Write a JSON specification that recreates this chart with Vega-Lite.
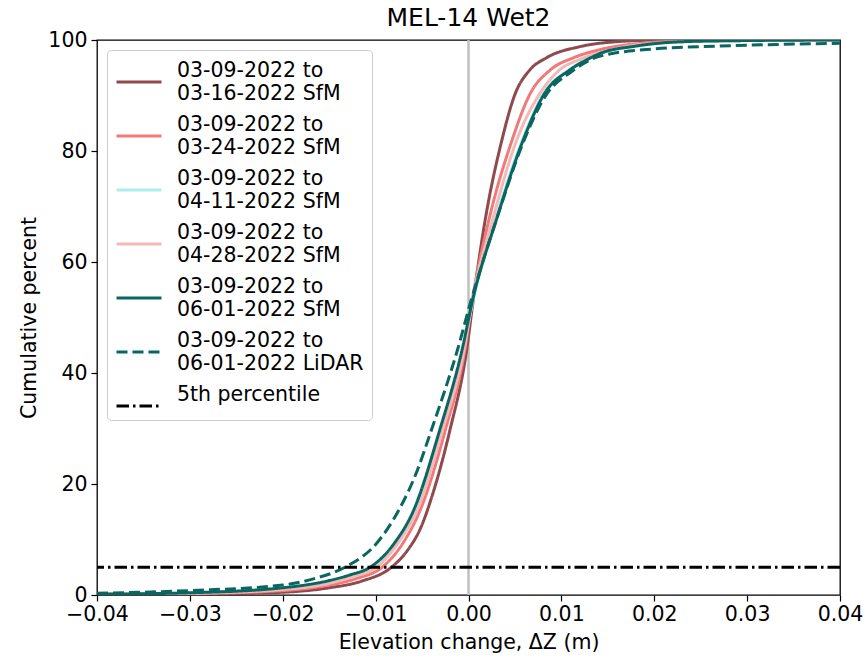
{
  "$schema": "https://vega.github.io/schema/vega-lite/v6.json",
  "width": 743,
  "height": 555,
  "autosize": "none",
  "padding": {"left": 97, "top": 40, "right": 25, "bottom": 65},
  "config": {
    "font": "DejaVu Sans",
    "view": {"stroke": "black", "strokeWidth": 1.3},
    "axis": {
      "domain": false, "grid": false, "tickColor": "black", "tickWidth": 1.2, "tickSize": 6,
      "labelFontSize": 20.5, "labelColor": "black", "labelFont": "DejaVu Sans",
      "labelOverlap": false, "labelFlush": false, "labelBound": false,
      "titleFontSize": 20.5, "titleFontWeight": "normal", "titleColor": "black", "titleFont": "DejaVu Sans"
    }
  },
  "title": {"text": "MEL-14 Wet2", "fontSize": 25, "fontWeight": "normal", "font": "DejaVu Sans", "color": "black", "offset": -1},
  "datasets": {
    "curves": [
      {"series": "03-09-2022 to|03-16-2022 SfM", "dz": -0.04, "pct": 0.05},
      {"series": "03-09-2022 to|03-16-2022 SfM", "dz": -0.03, "pct": 0.15},
      {"series": "03-09-2022 to|03-16-2022 SfM", "dz": -0.02, "pct": 0.5},
      {"series": "03-09-2022 to|03-16-2022 SfM", "dz": -0.015, "pct": 1.3},
      {"series": "03-09-2022 to|03-16-2022 SfM", "dz": -0.0115, "pct": 2.5},
      {"series": "03-09-2022 to|03-16-2022 SfM", "dz": -0.0083, "pct": 5},
      {"series": "03-09-2022 to|03-16-2022 SfM", "dz": -0.0065, "pct": 8.2},
      {"series": "03-09-2022 to|03-16-2022 SfM", "dz": -0.0052, "pct": 11.9},
      {"series": "03-09-2022 to|03-16-2022 SfM", "dz": -0.0038, "pct": 18.5},
      {"series": "03-09-2022 to|03-16-2022 SfM", "dz": -0.002, "pct": 29.7},
      {"series": "03-09-2022 to|03-16-2022 SfM", "dz": -0.0002, "pct": 44.1},
      {"series": "03-09-2022 to|03-16-2022 SfM", "dz": 0.0005, "pct": 53},
      {"series": "03-09-2022 to|03-16-2022 SfM", "dz": 0.0018, "pct": 67.6},
      {"series": "03-09-2022 to|03-16-2022 SfM", "dz": 0.0036, "pct": 82},
      {"series": "03-09-2022 to|03-16-2022 SfM", "dz": 0.005, "pct": 90.2},
      {"series": "03-09-2022 to|03-16-2022 SfM", "dz": 0.0066, "pct": 94.6},
      {"series": "03-09-2022 to|03-16-2022 SfM", "dz": 0.0084, "pct": 96.8},
      {"series": "03-09-2022 to|03-16-2022 SfM", "dz": 0.012, "pct": 98.8},
      {"series": "03-09-2022 to|03-16-2022 SfM", "dz": 0.016, "pct": 99.7},
      {"series": "03-09-2022 to|03-16-2022 SfM", "dz": 0.02, "pct": 99.95},
      {"series": "03-09-2022 to|03-16-2022 SfM", "dz": 0.04, "pct": 100},

      {"series": "03-09-2022 to|03-24-2022 SfM", "dz": -0.04, "pct": 0.1},
      {"series": "03-09-2022 to|03-24-2022 SfM", "dz": -0.03, "pct": 0.25},
      {"series": "03-09-2022 to|03-24-2022 SfM", "dz": -0.02, "pct": 0.8},
      {"series": "03-09-2022 to|03-24-2022 SfM", "dz": -0.015, "pct": 1.8},
      {"series": "03-09-2022 to|03-24-2022 SfM", "dz": -0.012, "pct": 3.0},
      {"series": "03-09-2022 to|03-24-2022 SfM", "dz": -0.0093, "pct": 5},
      {"series": "03-09-2022 to|03-24-2022 SfM", "dz": -0.007, "pct": 9.5},
      {"series": "03-09-2022 to|03-24-2022 SfM", "dz": -0.0052, "pct": 15.3},
      {"series": "03-09-2022 to|03-24-2022 SfM", "dz": -0.0025, "pct": 29.7},
      {"series": "03-09-2022 to|03-24-2022 SfM", "dz": -0.0004, "pct": 44.1},
      {"series": "03-09-2022 to|03-24-2022 SfM", "dz": 0.0004, "pct": 53},
      {"series": "03-09-2022 to|03-24-2022 SfM", "dz": 0.0022, "pct": 67.6},
      {"series": "03-09-2022 to|03-24-2022 SfM", "dz": 0.0047, "pct": 82},
      {"series": "03-09-2022 to|03-24-2022 SfM", "dz": 0.0066, "pct": 90.2},
      {"series": "03-09-2022 to|03-24-2022 SfM", "dz": 0.0088, "pct": 94.6},
      {"series": "03-09-2022 to|03-24-2022 SfM", "dz": 0.0113, "pct": 96.8},
      {"series": "03-09-2022 to|03-24-2022 SfM", "dz": 0.014, "pct": 98.2},
      {"series": "03-09-2022 to|03-24-2022 SfM", "dz": 0.018, "pct": 99.3},
      {"series": "03-09-2022 to|03-24-2022 SfM", "dz": 0.025, "pct": 99.9},
      {"series": "03-09-2022 to|03-24-2022 SfM", "dz": 0.04, "pct": 100},

      {"series": "03-09-2022 to|04-11-2022 SfM", "dz": -0.04, "pct": 0.15},
      {"series": "03-09-2022 to|04-11-2022 SfM", "dz": -0.03, "pct": 0.4},
      {"series": "03-09-2022 to|04-11-2022 SfM", "dz": -0.02, "pct": 1.25},
      {"series": "03-09-2022 to|04-11-2022 SfM", "dz": -0.015, "pct": 2.5},
      {"series": "03-09-2022 to|04-11-2022 SfM", "dz": -0.0105, "pct": 5},
      {"series": "03-09-2022 to|04-11-2022 SfM", "dz": -0.0058, "pct": 15.3},
      {"series": "03-09-2022 to|04-11-2022 SfM", "dz": -0.003, "pct": 29.7},
      {"series": "03-09-2022 to|04-11-2022 SfM", "dz": -0.0006, "pct": 44.1},
      {"series": "03-09-2022 to|04-11-2022 SfM", "dz": 0.0005, "pct": 53.2},
      {"series": "03-09-2022 to|04-11-2022 SfM", "dz": 0.0029, "pct": 67.6},
      {"series": "03-09-2022 to|04-11-2022 SfM", "dz": 0.0058, "pct": 82},
      {"series": "03-09-2022 to|04-11-2022 SfM", "dz": 0.0081, "pct": 90.4},
      {"series": "03-09-2022 to|04-11-2022 SfM", "dz": 0.0108, "pct": 94.6},
      {"series": "03-09-2022 to|04-11-2022 SfM", "dz": 0.0126, "pct": 96.4},
      {"series": "03-09-2022 to|04-11-2022 SfM", "dz": 0.0142, "pct": 97.6},
      {"series": "03-09-2022 to|04-11-2022 SfM", "dz": 0.018, "pct": 98.9},
      {"series": "03-09-2022 to|04-11-2022 SfM", "dz": 0.023, "pct": 99.7},
      {"series": "03-09-2022 to|04-11-2022 SfM", "dz": 0.03, "pct": 99.9},
      {"series": "03-09-2022 to|04-11-2022 SfM", "dz": 0.04, "pct": 100},

      {"series": "03-09-2022 to|04-28-2022 SfM", "dz": -0.04, "pct": 0.1},
      {"series": "03-09-2022 to|04-28-2022 SfM", "dz": -0.03, "pct": 0.3},
      {"series": "03-09-2022 to|04-28-2022 SfM", "dz": -0.02, "pct": 1.0},
      {"series": "03-09-2022 to|04-28-2022 SfM", "dz": -0.015, "pct": 2.1},
      {"series": "03-09-2022 to|04-28-2022 SfM", "dz": -0.0125, "pct": 3.3},
      {"series": "03-09-2022 to|04-28-2022 SfM", "dz": -0.0099, "pct": 5},
      {"series": "03-09-2022 to|04-28-2022 SfM", "dz": -0.0075, "pct": 9.6},
      {"series": "03-09-2022 to|04-28-2022 SfM", "dz": -0.0054, "pct": 15.8},
      {"series": "03-09-2022 to|04-28-2022 SfM", "dz": -0.0028, "pct": 29.7},
      {"series": "03-09-2022 to|04-28-2022 SfM", "dz": -0.0005, "pct": 44.1},
      {"series": "03-09-2022 to|04-28-2022 SfM", "dz": 0.0004, "pct": 53},
      {"series": "03-09-2022 to|04-28-2022 SfM", "dz": 0.0026, "pct": 67.6},
      {"series": "03-09-2022 to|04-28-2022 SfM", "dz": 0.0052, "pct": 82},
      {"series": "03-09-2022 to|04-28-2022 SfM", "dz": 0.0077, "pct": 90.4},
      {"series": "03-09-2022 to|04-28-2022 SfM", "dz": 0.0098, "pct": 94.6},
      {"series": "03-09-2022 to|04-28-2022 SfM", "dz": 0.012, "pct": 96.5},
      {"series": "03-09-2022 to|04-28-2022 SfM", "dz": 0.015, "pct": 98.1},
      {"series": "03-09-2022 to|04-28-2022 SfM", "dz": 0.02, "pct": 99.4},
      {"series": "03-09-2022 to|04-28-2022 SfM", "dz": 0.03, "pct": 99.9},
      {"series": "03-09-2022 to|04-28-2022 SfM", "dz": 0.04, "pct": 100},

      {"series": "03-09-2022 to|06-01-2022 SfM", "dz": -0.04, "pct": 0.15},
      {"series": "03-09-2022 to|06-01-2022 SfM", "dz": -0.03, "pct": 0.4},
      {"series": "03-09-2022 to|06-01-2022 SfM", "dz": -0.02, "pct": 1.3},
      {"series": "03-09-2022 to|06-01-2022 SfM", "dz": -0.015, "pct": 2.6},
      {"series": "03-09-2022 to|06-01-2022 SfM", "dz": -0.0128, "pct": 3.6},
      {"series": "03-09-2022 to|06-01-2022 SfM", "dz": -0.0106, "pct": 5},
      {"series": "03-09-2022 to|06-01-2022 SfM", "dz": -0.008, "pct": 9.3},
      {"series": "03-09-2022 to|06-01-2022 SfM", "dz": -0.0059, "pct": 15.3},
      {"series": "03-09-2022 to|06-01-2022 SfM", "dz": -0.0031, "pct": 29.7},
      {"series": "03-09-2022 to|06-01-2022 SfM", "dz": -0.0007, "pct": 44.1},
      {"series": "03-09-2022 to|06-01-2022 SfM", "dz": 0.00045, "pct": 53.2},
      {"series": "03-09-2022 to|06-01-2022 SfM", "dz": 0.003, "pct": 67.6},
      {"series": "03-09-2022 to|06-01-2022 SfM", "dz": 0.0059, "pct": 82},
      {"series": "03-09-2022 to|06-01-2022 SfM", "dz": 0.0082, "pct": 90.4},
      {"series": "03-09-2022 to|06-01-2022 SfM", "dz": 0.0109, "pct": 94.6},
      {"series": "03-09-2022 to|06-01-2022 SfM", "dz": 0.0127, "pct": 96.4},
      {"series": "03-09-2022 to|06-01-2022 SfM", "dz": 0.0142, "pct": 97.6},
      {"series": "03-09-2022 to|06-01-2022 SfM", "dz": 0.018, "pct": 98.9},
      {"series": "03-09-2022 to|06-01-2022 SfM", "dz": 0.023, "pct": 99.7},
      {"series": "03-09-2022 to|06-01-2022 SfM", "dz": 0.03, "pct": 99.9},
      {"series": "03-09-2022 to|06-01-2022 SfM", "dz": 0.04, "pct": 100},

      {"series": "03-09-2022 to|06-01-2022 LiDAR", "dz": -0.04, "pct": 0.3},
      {"series": "03-09-2022 to|06-01-2022 LiDAR", "dz": -0.03, "pct": 0.8},
      {"series": "03-09-2022 to|06-01-2022 LiDAR", "dz": -0.02, "pct": 1.8},
      {"series": "03-09-2022 to|06-01-2022 LiDAR", "dz": -0.0165, "pct": 3.0},
      {"series": "03-09-2022 to|06-01-2022 LiDAR", "dz": -0.0133, "pct": 5},
      {"series": "03-09-2022 to|06-01-2022 LiDAR", "dz": -0.0098, "pct": 9.5},
      {"series": "03-09-2022 to|06-01-2022 LiDAR", "dz": -0.0075, "pct": 15.3},
      {"series": "03-09-2022 to|06-01-2022 LiDAR", "dz": -0.0055, "pct": 22.5},
      {"series": "03-09-2022 to|06-01-2022 LiDAR", "dz": -0.0041, "pct": 29.2},
      {"series": "03-09-2022 to|06-01-2022 LiDAR", "dz": -0.0012, "pct": 44.1},
      {"series": "03-09-2022 to|06-01-2022 LiDAR", "dz": 0.0003, "pct": 53.2},
      {"series": "03-09-2022 to|06-01-2022 LiDAR", "dz": 0.003, "pct": 67.6},
      {"series": "03-09-2022 to|06-01-2022 LiDAR", "dz": 0.006, "pct": 82},
      {"series": "03-09-2022 to|06-01-2022 LiDAR", "dz": 0.0084, "pct": 90.2},
      {"series": "03-09-2022 to|06-01-2022 LiDAR", "dz": 0.011, "pct": 94.2},
      {"series": "03-09-2022 to|06-01-2022 LiDAR", "dz": 0.0142, "pct": 97.1},
      {"series": "03-09-2022 to|06-01-2022 LiDAR", "dz": 0.02, "pct": 98.4},
      {"series": "03-09-2022 to|06-01-2022 LiDAR", "dz": 0.027, "pct": 98.9},
      {"series": "03-09-2022 to|06-01-2022 LiDAR", "dz": 0.04, "pct": 99.4}
    ]
  },
  "layer": [
    {
      "data": {"values": [{"zero": 0}]},
      "mark": {"type": "rule", "color": "#bfbfbf", "strokeWidth": 2.5},
      "encoding": {"x": {"field": "zero", "type": "quantitative"}}
    },
    {
      "data": {"name": "curves"},
      "mark": {"type": "line", "strokeWidth": 3, "interpolate": "monotone", "clip": true},
      "encoding": {
        "x": {
          "field": "dz", "type": "quantitative",
          "scale": {"domain": [-0.04, 0.04], "nice": false, "zero": false},
          "axis": {"values": [-0.04, -0.03, -0.02, -0.01, 0, 0.01, 0.02, 0.03, 0.04], "format": ".2f", "title": "Elevation change, ΔZ (m)", "labelPadding": 3, "titlePadding": 8}
        },
        "y": {
          "field": "pct", "type": "quantitative",
          "scale": {"domain": [0, 100], "nice": false},
          "axis": {"values": [0, 20, 40, 60, 80, 100], "title": "Cumulative percent", "labelPadding": 4, "titlePadding": 8}
        },
        "color": {
          "field": "series", "type": "nominal",
          "scale": {
            "domain": ["03-09-2022 to|03-16-2022 SfM", "03-09-2022 to|03-24-2022 SfM", "03-09-2022 to|04-11-2022 SfM", "03-09-2022 to|04-28-2022 SfM", "03-09-2022 to|06-01-2022 SfM", "03-09-2022 to|06-01-2022 LiDAR", "5th percentile"],
            "range": ["#8e4a4d", "#f07a7a", "#b0ecec", "#f4b8b8", "#0a6660", "#0a6660", "#000000"]
          },
          "legend": {
            "title": null, "orient": "none", "legendX": 10, "legendY": 10,
            "fillColor": "white", "strokeColor": "#cccccc", "cornerRadius": 4, "padding": 8,
            "symbolType": "stroke", "symbolSize": 2025, "symbolStrokeWidth": 3,
            "labelFontSize": 20.5, "labelFont": "DejaVu Sans", "labelColor": "black", "labelOffset": 14,
            "labelLimit": 400, "rowPadding": 8, "gridAlign": "each", "labelBaseline": "line-bottom",
            "labelExpr": "split(datum.label, '|')"
          }
        },
        "strokeDash": {
          "field": "series", "type": "nominal",
          "scale": {
            "domain": ["03-09-2022 to|03-16-2022 SfM", "03-09-2022 to|03-24-2022 SfM", "03-09-2022 to|04-11-2022 SfM", "03-09-2022 to|04-28-2022 SfM", "03-09-2022 to|06-01-2022 SfM", "03-09-2022 to|06-01-2022 LiDAR", "5th percentile"],
            "range": [[1, 0], [1, 0], [1, 0], [1, 0], [1, 0], [11, 5], [12.5, 4, 2.5, 4]]
          },
          "legend": {
            "title": null, "orient": "none", "legendX": 10, "legendY": 10,
            "fillColor": "white", "strokeColor": "#cccccc", "cornerRadius": 4, "padding": 8,
            "symbolType": "stroke", "symbolSize": 2025, "symbolStrokeWidth": 3,
            "labelFontSize": 20.5, "labelFont": "DejaVu Sans", "labelColor": "black", "labelOffset": 14,
            "labelLimit": 400, "rowPadding": 8, "gridAlign": "each", "labelBaseline": "line-bottom",
            "labelExpr": "split(datum.label, '|')"
          }
        }
      }
    },
    {
      "data": {"values": [{"p": 5, "s": "5th percentile"}]},
      "mark": {"type": "rule", "strokeWidth": 2.8},
      "encoding": {
        "y": {"field": "p", "type": "quantitative"},
        "color": {"field": "s", "type": "nominal"},
        "strokeDash": {"field": "s", "type": "nominal"}
      }
    }
  ]
}
